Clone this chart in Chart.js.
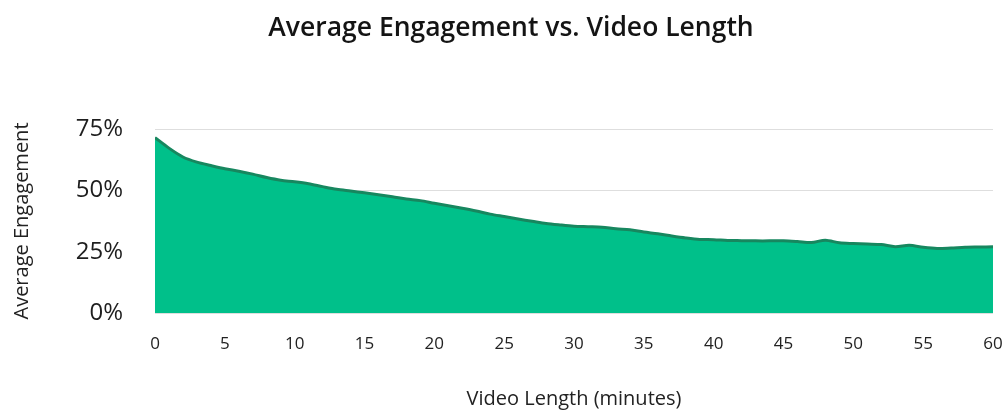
<!DOCTYPE html>
<html>
<head>
<meta charset="utf-8">
<script src="https://cdn.jsdelivr.net/npm/chart.js@4.4.1/dist/chart.umd.min.js"></script>
<style>
  html, body { margin: 0; padding: 0; background: #ffffff; }
  #wrap { width: 1006px; height: 414px; }
</style>
</head>
<body>
<div id="wrap"><canvas id="chart" width="1006" height="414"></canvas></div>
<script>
// Video length in minutes (one sample per minute)
const minutes = [
  0, 1, 2, 3, 4, 5, 6, 7, 8, 9,
  10, 11, 12, 13, 14, 15, 16, 17, 18, 19,
  20, 21, 22, 23, 24, 25, 26, 27, 28, 29,
  30, 31, 32, 33, 34, 35, 36, 37, 38, 39,
  40, 41, 42, 43, 44, 45, 46, 47, 48, 49,
  50, 51, 52, 53, 54, 55, 56, 57, 58, 59, 60
];

// Average engagement (%) for each video length
const engagement = [
  71.5, 67.2, 63.6, 61.5, 60.1, 58.8, 57.8, 56.6, 55.2, 54.1,
  53.5, 52.7, 51.5, 50.4, 49.7, 49.0, 48.2, 47.4, 46.5, 45.8,
  44.7, 43.7, 42.7, 41.6, 40.3, 39.3, 38.3, 37.4, 36.5, 35.9,
  35.4, 35.2, 35.0, 34.3, 33.9, 33.0, 32.3, 31.4, 30.6, 30.0,
  29.9, 29.6, 29.5, 29.4, 29.4, 29.4, 29.1, 28.7, 29.7, 28.6,
  28.3, 28.1, 27.9, 27.0, 27.6, 26.8, 26.3, 26.5, 26.8, 26.9, 27.0
];

// Axis tick values
const yTicks = [0, 25, 50, 75];
const xTicks = [0, 5, 10, 15, 20, 25, 30, 35, 40, 45, 50, 55, 60];

const chartTitle = 'Average Engagement vs. Video Length';

const points = minutes.map((m, i) => ({ x: m, y: engagement[i] }));
const FONT = '"Open Sans", "Noto Sans", sans-serif';

// Heading drawn across the top of the canvas, slightly right of centre
const heading = {
  id: 'heading',
  afterDraw(chart) {
    const ctx = chart.ctx;
    ctx.save();
    ctx.font = '600 26.5px ' + FONT;
    ctx.fillStyle = '#141414';
    ctx.textAlign = 'center';
    ctx.textBaseline = 'middle';
    ctx.fillText(chartTitle, chart.width / 2 + 8, 28);
    ctx.restore();
  }
};

new Chart(document.getElementById('chart'), {
  type: 'line',
  data: {
    datasets: [{
      data: points,
      borderColor: '#17875f',
      borderWidth: 3,
      backgroundColor: '#00c08a',
      fill: 'origin',
      pointRadius: 0,
      tension: 0.3
    }]
  },
  plugins: [heading],
  options: {
    responsive: false,
    animation: false,
    layout: { padding: { left: 0, right: 13, top: 129, bottom: 0 } },
    plugins: {
      legend: { display: false },
      tooltip: { enabled: false },
      title: { display: false }
    },
    scales: {
      x: {
        type: 'linear',
        min: 0,
        max: 60,
        afterBuildTicks: (scale) => { scale.ticks = xTicks.map(v => ({ value: v })); },
        grid: { display: false, drawTicks: false },
        border: { display: false },
        ticks: {
          padding: 21,
          color: '#222222',
          font: { family: FONT, size: 17 }
        },
        title: {
          display: true,
          text: 'Video Length (minutes)',
          color: '#222222',
          font: { family: FONT, size: 20 },
          padding: { top: 30, bottom: 3 }
        },
        afterFit: (scale) => {
          scale.height = 101;
          scale.paddingLeft = 0;
          scale.paddingRight = 0;
        }
      },
      y: {
        min: 0,
        max: 75,
        afterBuildTicks: (scale) => { scale.ticks = yTicks.map(v => ({ value: v })); },
        grid: { color: '#dedede', lineWidth: 1, drawTicks: false },
        border: { display: false },
        ticks: {
          padding: 32,
          color: '#1e1e1e',
          font: { family: FONT, size: 24, weight: '500' },
          callback: (v) => v + '%'
        },
        title: {
          display: true,
          text: 'Average Engagement',
          color: '#222222',
          font: { family: FONT, size: 20 },
          padding: { top: 10, bottom: 0 }
        },
        afterFit: (scale) => { scale.width = 155; }
      }
    }
  }
});
</script>
</body>
</html>
